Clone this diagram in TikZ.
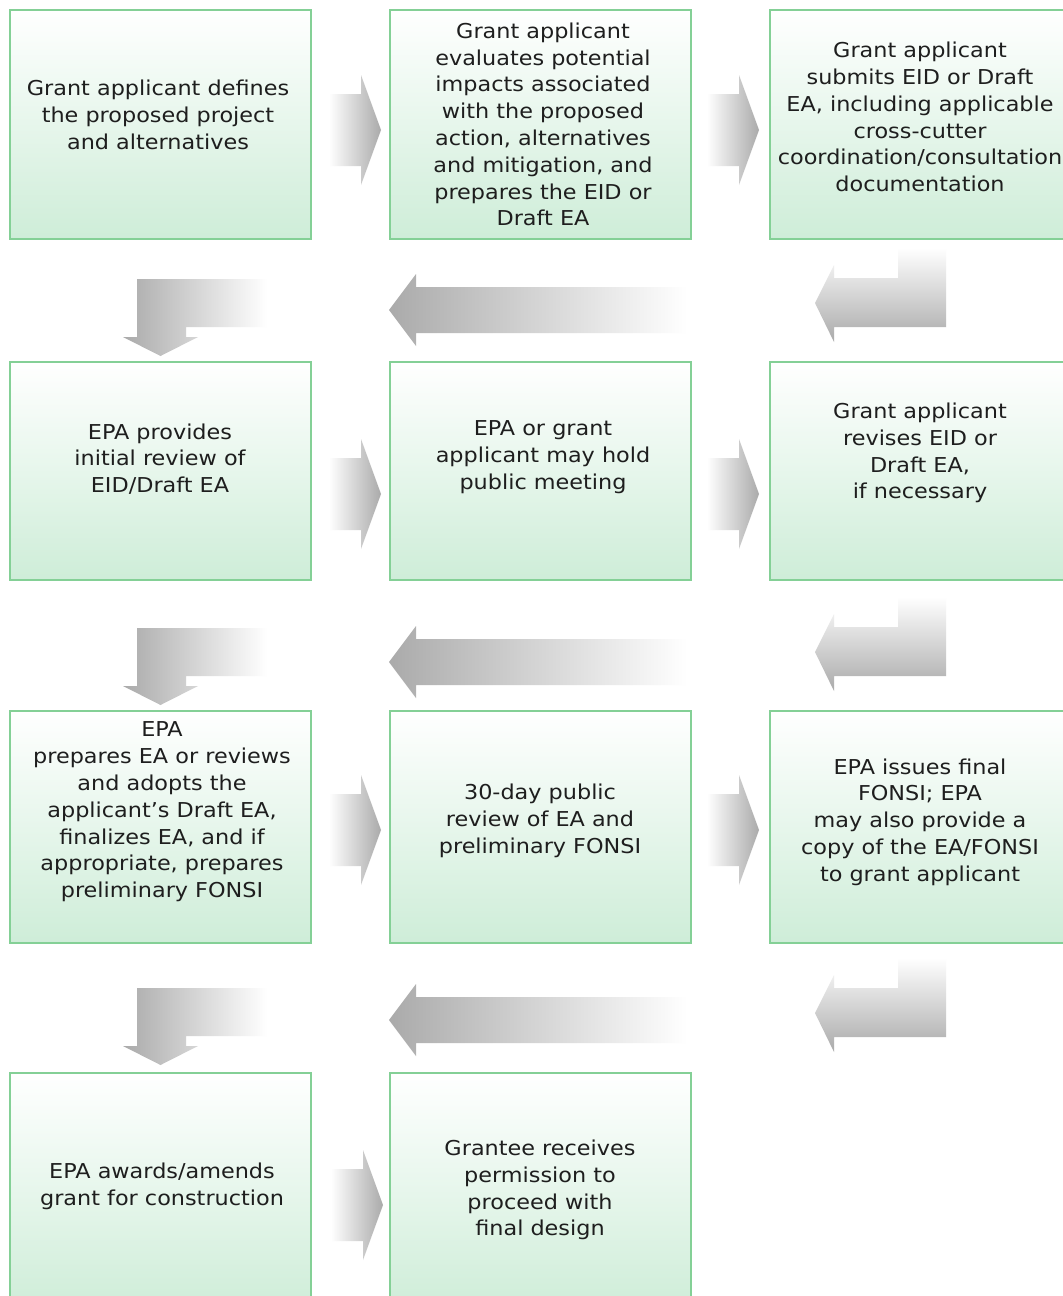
\documentclass[tikz,border=0pt]{standalone}
\usepackage{fontspec}
\setmainfont{DejaVu Sans}[FakeStretch=1.09]
\definecolor{boxedge}{RGB}{132,208,150}
\definecolor{boxbot}{RGB}{206,237,216}
\definecolor{arrgray}{RGB}{170,170,170}
\definecolor{txtcol}{RGB}{30,30,30}
\tikzset{
  box/.style={draw=boxedge, line width=2.2pt, top color=white, bottom color=boxbot,
    minimum width=301pt, minimum height=#1, inner sep=0pt},
  txt/.style={align=center, text=txtcol, font=\fontsize{20.5}{26.8}\selectfont, inner sep=0pt},
  rblock/.pic={\shade[left color=white, right color=arrgray]
    (-52,-36) -- (-20,-36) -- (-20,-55) -- (0,0) -- (-20,55) -- (-20,36) -- (-52,36) -- cycle;},
  lblock/.pic={\shade[left color=arrgray, right color=white]
    (0,0) -- (27,-36) -- (27,-23) -- (298,-23) -- (298,23) -- (27,23) -- (27,36) -- cycle;},
  dbent/.pic={\shade[left color=arrgray, right color=white]
    (0,0) -- (130,0) -- (130,48) -- (49,48) -- (49,58) -- (61,58) -- (23.5,77) -- (-14,58) -- (0,58) -- cycle;},
  rbent/.pic={\shade[top color=white, bottom color=arrgray]
    (-48,-30) -- (0,-30) -- (0,49) -- (-112,49) -- (-112,64) -- (-131,25) -- (-112,-13) -- (-112,0) -- (-48,0) -- cycle;}
}
\begin{document}
\begin{tikzpicture}[x=1pt,y=-1pt]
\useasboundingbox (0,0) rectangle (1063,1296);
\fill[white] (0,0) rectangle (1063,1296);
\clip (0,0) rectangle (1063,1296);
% boxes
\node[box=229pt] (b1) at (160.5,124.5) {};
\node[box=229pt] (b2) at (540.5,124.5) {};
\node[box=229pt] (b3) at (920.5,124.5) {};
\node[box=218pt] (b4) at (160.5,471) {};
\node[box=218pt] (b5) at (540.5,471) {};
\node[box=218pt] (b6) at (920.5,471) {};
\node[box=232pt] (b7) at (160.5,827) {};
\node[box=232pt] (b8) at (540.5,827) {};
\node[box=232pt] (b9) at (920.5,827) {};
\node[box=237pt] (b10) at (160.5,1191.5) {};
\node[box=237pt] (b11) at (540.5,1191.5) {};
% texts
\node[txt] (t1) at (158,115) {Grant applicant defines\\the proposed project\\and alternatives};
\node[txt] (t2) at (543,124.5) {Grant applicant\\evaluates potential\\impacts associated\\with the proposed\\action, alternatives\\and mitigation, and\\prepares the EID or\\Draft EA};
\node[txt] (t3) at (920,117) {Grant applicant\\submits EID or Draft\\EA, including applicable\\cross-cutter\\coordination/consultation\\documentation};
\node[txt] (t4) at (160,459) {EPA provides\\initial review of\\EID/Draft EA};
\node[txt] (t5) at (543,457) {EPA or grant\\applicant may hold\\public meeting};
\node[txt] (t6) at (920,453) {Grant applicant\\revises EID or\\Draft EA,\\if necessary};
\node[txt] (t7) at (162,812) {EPA\\prepares EA or reviews\\and adopts the\\applicant’s Draft EA,\\finalizes EA, and if\\appropriate, prepares\\preliminary FONSI};
\node[txt] (t8) at (540,821) {30-day public\\review of EA and\\preliminary FONSI};
\node[txt] (t9) at (920,822) {EPA issues final\\FONSI; EPA\\may also provide a\\copy of the EA/FONSI\\to grant applicant};
\node[txt] (t10) at (162,1186) {EPA awards/amends\\grant for construction};
\node[txt] (t11) at (540,1190) {Grantee receives\\permission to\\proceed with\\final design};
% right block arrows
\pic at (381,130) {rblock};
\pic at (759,130) {rblock};
\pic at (381,494) {rblock};
\pic at (759,494) {rblock};
\pic at (381,830) {rblock};
\pic at (759,830) {rblock};
\pic at (383,1205) {rblock};
% bent arrows down the right column
\pic at (946,278) {rbent};
\pic at (946,627) {rbent};
\pic at (946,988) {rbent};
% long left arrows
\pic at (389,310) {lblock};
\pic at (389,662) {lblock};
\pic at (389,1020) {lblock};
% bent arrows into left column
\pic at (137,279) {dbent};
\pic at (137,628) {dbent};
\pic at (137,988) {dbent};
\end{tikzpicture}
\end{document}
